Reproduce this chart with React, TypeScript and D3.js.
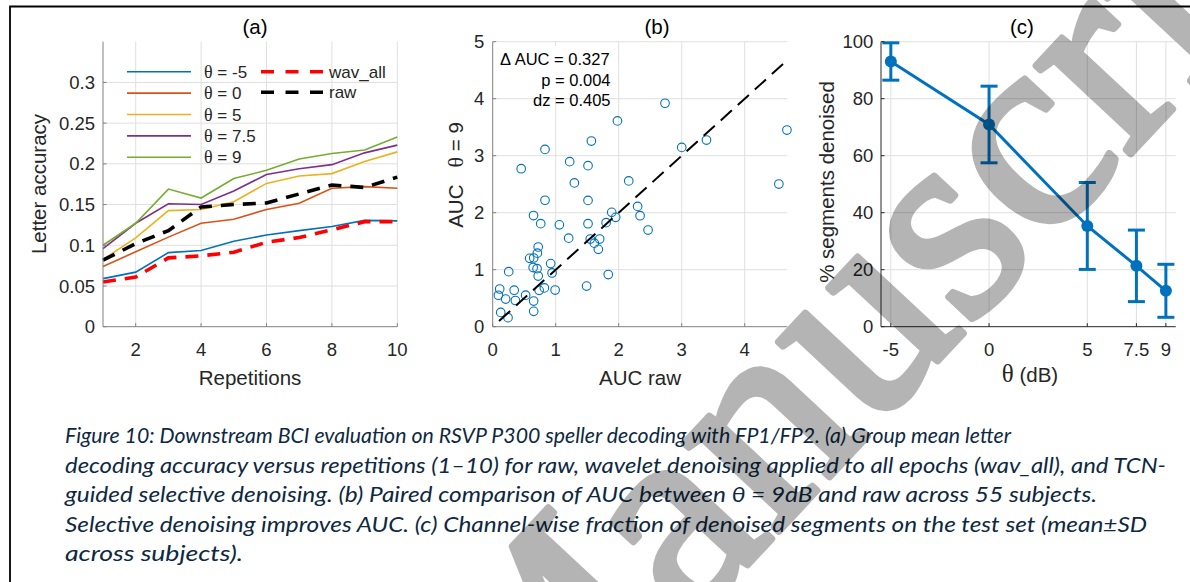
import React from 'react';
import * as d3 from 'd3';

// ---------- Panel (a) data ----------
const repetitions = [1, 2, 3, 4, 5, 6, 7, 8, 9, 10];
const accThetaM5 = [0.059, 0.067, 0.091, 0.0935, 0.105, 0.1127, 0.118, 0.123, 0.1306, 0.13];
const accTheta0 = [0.074, 0.092, 0.11, 0.127, 0.132, 0.144, 0.1515, 0.17, 0.172, 0.17];
const accTheta5 = [0.0825, 0.109, 0.1425, 0.144, 0.1535, 0.176, 0.185, 0.188, 0.203, 0.2147];
const accTheta75 = [0.096, 0.127, 0.151, 0.15, 0.1666, 0.187, 0.194, 0.199, 0.2135, 0.223];
const accTheta9 = [0.1, 0.127, 0.169, 0.158, 0.182, 0.192, 0.206, 0.2127, 0.217, 0.233];
const accWavAll = [0.055, 0.061, 0.0845, 0.087, 0.0915, 0.1037, 0.1095, 0.119, 0.129, 0.129];
const accRaw = [0.0817, 0.102, 0.118, 0.147, 0.15, 0.152, 0.163, 0.174, 0.171, 0.1837];
const aYTicks = [0, 0.05, 0.1, 0.15, 0.2, 0.25, 0.3];
const aYTickLabels = ['0', '0.05', '0.1', '0.15', '0.2', '0.25', '0.3'];
const aXTicks = [2, 4, 6, 8, 10];
const thetaLegendLabels = ['-5', '0', '5', '7.5', '9'];

// ---------- Panel (b) data ----------
const aucRaw = [2.735, 1.98, 1.566, 0.83, 3.0, 3.393, 4.67, 4.542, 0.452, 1.222, 1.513, 1.296, 2.159, 0.83, 1.513, 2.3, 1.889, 1.952, 2.339, 0.648, 0.762, 1.058, 1.513, 1.8, 2.466, 1.206, 1.548, 1.698, 1.613, 1.677, 0.722, 0.709, 0.587, 0.651, 0.92, 0.642, 0.704, 0.942, 0.722, 0.254, 1.834, 1.49, 0.991, 0.82, 0.737, 0.111, 0.341, 0.09, 0.206, 0.523, 0.36, 0.65, 0.127, 0.651, 0.243];
const aucTheta9 = [3.92, 3.61, 3.257, 3.11, 3.146, 3.275, 3.45, 2.503, 2.772, 2.895, 2.825, 2.523, 2.558, 2.218, 2.216, 2.11, 2.006, 1.918, 1.947, 1.95, 1.808, 1.787, 1.807, 1.825, 1.696, 1.553, 1.538, 1.538, 1.465, 1.357, 1.398, 1.29, 1.199, 1.205, 1.107, 1.038, 1.018, 0.943, 0.889, 0.965, 0.915, 0.713, 0.643, 0.68, 0.638, 0.661, 0.64, 0.552, 0.485, 0.553, 0.46, 0.45, 0.251, 0.269, 0.158];
const diagLimits = [0.1, 4.65];
const bXTicks = [0, 1, 2, 3, 4];
const bYTicks = [0, 1, 2, 3, 4, 5];
const bStats = ['Δ AUC = 0.327', 'p = 0.004', 'dz = 0.405'];

// ---------- Panel (c) data ----------
const thetaLevels = [-5, 0, 5, 7.5, 9];
const thetaTickLabels = ['-5', '0', '5', '7.5', '9'];
const segMean = [93.05, 70.95, 35.35, 21.35, 12.6];
const segSD = [6.55, 13.45, 15.25, 12.55, 9.3];
const cYTicks = [0, 20, 40, 60, 80, 100];

// ---------- Caption ----------
const captionLines = [
  'Figure 10: Downstream BCI evaluation on RSVP P300 speller decoding with FP1/FP2. (a) Group mean letter',
  'decoding accuracy versus repetitions (1–10) for raw, wavelet denoising applied to all epochs (wav_all), and TCN-',
  'guided selective denoising. (b) Paired comparison of AUC between θ = 9dB and raw across 55 subjects.',
  'Selective denoising improves AUC. (c) Channel-wise fraction of denoised segments on the test set (mean±SD',
  'across subjects).',
];
const captionLineEnds = [1011, 1166, 1097, 1147, 243];

const SANS = 'Liberation Sans, Arial, Helvetica, sans-serif';
const SERIF = 'Liberation Serif, Times New Roman, serif';
const TXT = '#262626';
const GRID = '#dfdfdf';
const C_BLUE = '#0072BD';

export default function App() {
  // Panel (a) scales
  const ax = d3.scaleLinear().domain([1, 10]).range([103, 397.3]);
  const ay = d3.scaleLinear().domain([0, 0.35]).range([326.7, 41.7]);
  const aLine = d3.line<number>().x((_, i) => ax(repetitions[i])).y((d) => ay(d));
  const thetaSeries = [
    { v: accThetaM5, c: '#0072BD' },
    { v: accTheta0, c: '#D95319' },
    { v: accTheta5, c: '#EDB120' },
    { v: accTheta75, c: '#7E2F8E' },
    { v: accTheta9, c: '#77AC30' },
  ];

  // Panel (b) scales
  const bx = d3.scaleLinear().domain([0, 4.676]).range([492.7, 787.3]);
  const by = d3.scaleLinear().domain([0, 5]).range([326.7, 41.7]);

  // Panel (c) scales
  const cx = d3.scaleLinear().domain([-5.5, 9.5]).range([881, 1175.7]);
  const cy = d3.scaleLinear().domain([0, 100]).range([326.7, 41.7]);
  const cLine = d3.line<number>().x((_, i) => cx(thetaLevels[i])).y((d) => cy(d));

  const tickLen = 3.5;
  const tickFs = 18.5;
  const labFs = 20.5;

  return (
    <div style={{ position: 'fixed', left: 0, top: 0 }}>
      <svg width={1190} height={582} style={{ display: 'block', background: '#fff' }}>
        <rect x={0} y={0} width={1190} height={582} fill="#fff" />

        {/* ================= Panel (a) ================= */}
        <g>
          {aYTicks.slice(1).map((t) => (
            <line key={'agy' + t} x1={ax(1)} x2={ax(10)} y1={ay(t)} y2={ay(t)} stroke={GRID} strokeWidth={1} />
          ))}
          {aXTicks.map((t) => (
            <line key={'agx' + t} x1={ax(t)} x2={ax(t)} y1={ay(0)} y2={ay(0.35)} stroke={GRID} strokeWidth={1} />
          ))}
          {thetaSeries.map((s, i) => (
            <path key={'as' + i} d={aLine(s.v) || ''} fill="none" stroke={s.c} strokeWidth={1.6} />
          ))}
          <path d={aLine(accWavAll) || ''} fill="none" stroke="#FF0000" strokeWidth={3.6} strokeDasharray="13,9" />
          <path d={aLine(accRaw) || ''} fill="none" stroke="#000" strokeWidth={3.6} strokeDasharray="13,9" />
          {/* axes */}
          <line x1={ax(1)} x2={ax(1)} y1={ay(0)} y2={ay(0.35)} stroke="#808080" strokeWidth={1} />
          <line x1={ax(1)} x2={ax(10)} y1={ay(0)} y2={ay(0)} stroke="#808080" strokeWidth={1} />
          {aYTicks.map((t, i) => (
            <g key={'ayt' + t}>
              <line x1={ax(1)} x2={ax(1) + tickLen} y1={ay(t)} y2={ay(t)} stroke="#808080" />
              <text x={95} y={ay(t) + 6.6} textAnchor="end" fontFamily={SANS} fontSize={tickFs} fill={TXT}>
                {aYTickLabels[i]}
              </text>
            </g>
          ))}
          {aXTicks.map((t) => (
            <g key={'axt' + t}>
              <line x1={ax(t)} x2={ax(t)} y1={ay(0)} y2={ay(0) - tickLen} stroke="#808080" />
              <text x={ax(t)} y={356} textAnchor="middle" fontFamily={SANS} fontSize={tickFs} fill={TXT}>
                {t}
              </text>
            </g>
          ))}
          <text x={250} y={384.7} textAnchor="middle" fontFamily={SANS} fontSize={labFs} fill={TXT}>
            Repetitions
          </text>
          <text transform="translate(46,184) rotate(-90)" textAnchor="middle" fontFamily={SANS} fontSize={labFs} fill={TXT}>
            Letter accuracy
          </text>
          <text x={255} y={34} textAnchor="middle" fontFamily={SANS} fontSize={labFs} fill="#000">
            (a)
          </text>
          {/* legend */}
          {thetaSeries.map((s, i) => {
            const yy = 71.7 + i * 21.4;
            return (
              <g key={'al' + i}>
                <line x1={127} x2={191} y1={yy} y2={yy} stroke={s.c} strokeWidth={1.6} />
                <text x={204} y={yy + 6} fontFamily={SANS} fontSize={17} fill={TXT}>
                  <tspan fontFamily={SERIF} fontSize={18}>θ</tspan>
                  {' = ' + thetaLegendLabels[i]}
                </text>
              </g>
            );
          })}
          {[
            { c: '#FF0000', t: 'wav_all' },
            { c: '#000', t: 'raw' },
          ].map((s, i) => {
            const yy = 71.7 + i * 20.6;
            return (
              <g key={'al2' + i}>
                <line x1={261} x2={323} y1={yy} y2={yy} stroke={s.c} strokeWidth={3.6} strokeDasharray="13,11.5" />
                <text x={329} y={yy + 6} fontFamily={SANS} fontSize={17} fill={TXT}>
                  {s.t}
                </text>
              </g>
            );
          })}
        </g>

        {/* ================= Panel (b) ================= */}
        <g>
          {bYTicks.slice(1).map((t) => (
            <line key={'bgy' + t} x1={bx(0)} x2={bx(4.676)} y1={by(t)} y2={by(t)} stroke={GRID} />
          ))}
          {bXTicks.slice(1).map((t) => (
            <line key={'bgx' + t} x1={bx(t)} x2={bx(t)} y1={by(0)} y2={by(5)} stroke={GRID} />
          ))}
          <rect x={497} y={46} width={117} height={50} fill="#fff" />
          {aucRaw.map((v, i) => (
            <circle key={'bp' + i} cx={bx(v)} cy={by(aucTheta9[i])} r={4.3} fill="none" stroke={C_BLUE} strokeWidth={1.1} />
          ))}
          <line
            x1={bx(diagLimits[0])}
            y1={by(diagLimits[0])}
            x2={bx(diagLimits[1])}
            y2={by(diagLimits[1])}
            stroke="#000"
            strokeWidth={2}
            strokeDasharray="15,8"
          />
          <line x1={bx(0)} x2={bx(0)} y1={by(0)} y2={by(5)} stroke="#808080" />
          <line x1={bx(0)} x2={bx(4.676)} y1={by(0)} y2={by(0)} stroke="#808080" />
          {bYTicks.map((t) => (
            <g key={'byt' + t}>
              <line x1={bx(0)} x2={bx(0) + tickLen} y1={by(t)} y2={by(t)} stroke="#808080" />
              <text x={484.3} y={by(t) + 6.6} textAnchor="end" fontFamily={SANS} fontSize={tickFs} fill={TXT}>
                {t}
              </text>
            </g>
          ))}
          {bXTicks.map((t) => (
            <g key={'bxt' + t}>
              <line x1={bx(t)} x2={bx(t)} y1={by(0)} y2={by(0) - tickLen} stroke="#808080" />
              <text x={bx(t)} y={356} textAnchor="middle" fontFamily={SANS} fontSize={tickFs} fill={TXT}>
                {t}
              </text>
            </g>
          ))}
          {bStats.map((s, i) => (
            <text key={'bs' + i} x={i === 0 ? 500 : 610.5} y={65 + i * 20.5} textAnchor={i === 0 ? 'start' : 'end'} fontFamily={SANS} fontSize={16.5} fill="#000">
              {s}
            </text>
          ))}
          <text x={640} y={384.7} textAnchor="middle" fontFamily={SANS} fontSize={labFs} fill={TXT}>
            AUC raw
          </text>
          <text transform="translate(463,175) rotate(-90)" textAnchor="middle" fontFamily={SANS} fontSize={labFs} fill={TXT} xmlSpace="preserve">
            {'AUC   '}
            <tspan fontFamily={SERIF} fontSize={22}>θ</tspan>
            {' = 9'}
          </text>
          <text x={657} y={34} textAnchor="middle" fontFamily={SANS} fontSize={labFs} fill="#000">
            (b)
          </text>
        </g>

        {/* ================= Panel (c) ================= */}
        <g>
          {cYTicks.slice(1).map((t) => (
            <line key={'cgy' + t} x1={cx(-5.5)} x2={cx(9.5)} y1={cy(t)} y2={cy(t)} stroke={GRID} />
          ))}
          {thetaLevels.map((t) => (
            <line key={'cgx' + t} x1={cx(t)} x2={cx(t)} y1={cy(0)} y2={cy(100)} stroke={GRID} />
          ))}
          <path d={cLine(segMean) || ''} fill="none" stroke={C_BLUE} strokeWidth={3} />
          {thetaLevels.map((t, i) => {
            const x = cx(t);
            const y1 = cy(segMean[i] - segSD[i]);
            const y2 = cy(segMean[i] + segSD[i]);
            return (
              <g key={'ce' + t}>
                <line x1={x} x2={x} y1={y1} y2={y2} stroke={C_BLUE} strokeWidth={3} />
                <line x1={x - 8.5} x2={x + 8.5} y1={y1} y2={y1} stroke={C_BLUE} strokeWidth={3} />
                <line x1={x - 8.5} x2={x + 8.5} y1={y2} y2={y2} stroke={C_BLUE} strokeWidth={3} />
                <circle cx={x} cy={cy(segMean[i])} r={6} fill={C_BLUE} />
              </g>
            );
          })}
          <line x1={cx(-5.5)} x2={cx(-5.5)} y1={cy(0)} y2={cy(100)} stroke="#262626" />
          <line x1={cx(-5.5)} x2={cx(9.5)} y1={cy(0)} y2={cy(0)} stroke="#262626" />
          {cYTicks.map((t) => (
            <g key={'cyt' + t}>
              <line x1={cx(-5.5)} x2={cx(-5.5) + tickLen} y1={cy(t)} y2={cy(t)} stroke="#262626" />
              <text x={873.3} y={cy(t) + 6.6} textAnchor="end" fontFamily={SANS} fontSize={tickFs} fill={TXT}>
                {t}
              </text>
            </g>
          ))}
          {thetaLevels.map((t, i) => (
            <g key={'cxt' + t}>
              <line x1={cx(t)} x2={cx(t)} y1={cy(0)} y2={cy(0) - tickLen} stroke="#262626" />
              <text x={cx(t)} y={356} textAnchor="middle" fontFamily={SANS} fontSize={tickFs} fill={TXT}>
                {thetaTickLabels[i]}
              </text>
            </g>
          ))}
          <text x={1030} y={382} textAnchor="middle" fontFamily={SANS} fontSize={labFs} fill={TXT}>
            <tspan fontFamily={SERIF} fontSize={25}>θ</tspan>
            {' (dB)'}
          </text>
          <text transform="translate(834,182) rotate(-90)" textAnchor="middle" fontFamily={SANS} fontSize={labFs} fill={TXT}>
            % segments denoised
          </text>
          <text x={1022} y={34} textAnchor="middle" fontFamily={SANS} fontSize={labFs} fill="#000">
            (c)
          </text>
        </g>

        {/* ================= Caption ================= */}
        {captionLines.map((s, i) => (
          <text
            key={'cap' + i}
            x={65}
            y={443.3 + i * 29.4}
            fontFamily="Lato, Roboto, sans-serif"
            fontStyle="italic"
            fontSize={22}
            fill="#0E2841"
            textLength={captionLineEnds[i] - 65}
            lengthAdjust="spacingAndGlyphs"
          >
            {s}
          </text>
        ))}

        {/* border */}
        <path d="M10,582 L10,6.5 L1190,6.5" fill="none" stroke="#000" strokeWidth={1.8} />

        {/* watermark */}
        <g opacity={0.29}>
          <text
            transform="translate(518,811) rotate(-47)"
            fontFamily={SERIF}
            fontSize={282}
            fill="#000"
            stroke="#000"
            strokeWidth={7}
            strokeLinejoin="round"
          >
            Manuscript
          </text>
        </g>
      </svg>
    </div>
  );
}
